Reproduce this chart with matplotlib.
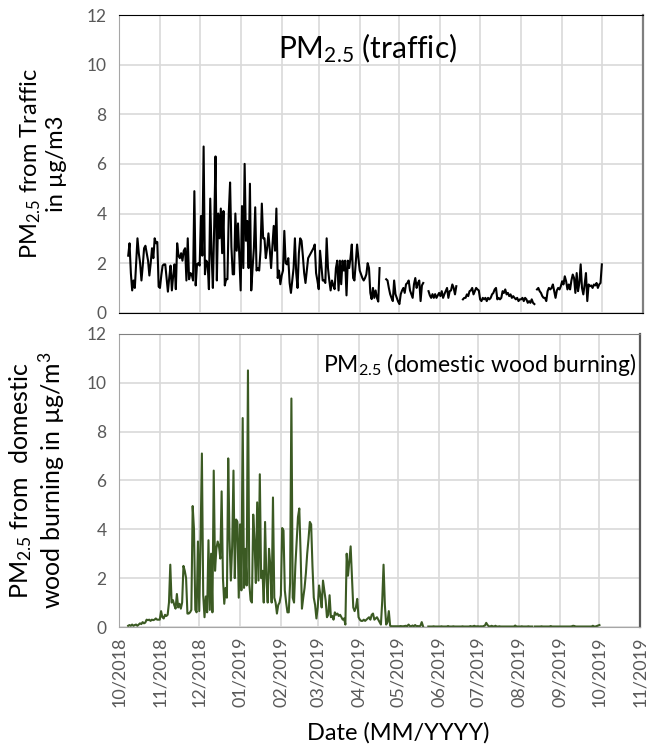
import numpy as np
import pandas as pd
import matplotlib
matplotlib.use("Agg")
import matplotlib.pyplot as plt
import matplotlib.dates as mdates

plt.rcParams['font.family'] = ['Lato', 'DejaVu Sans']
plt.rcParams['mathtext.default'] = 'regular'

nan = np.nan

# daily values, 08/10/2018 .. 01/10/2019
traffic_oct = [2.3, 2.8, 1.6, 0.9, 1.3, 1.0, 2.0, 3.0, 2.4, 2.0, 1.3, 1.9, 2.6, 2.7, 2.4, 2.1, 1.5, 2.0, 2.6, 2.2, 3.0, 2.8, 2.85, 1.05]
traffic_nov = [1.0, 1.5, 1.9, 1.95, 1.95, 1.4, 0.85, 1.4, 1.9, 0.9, 1.5, 1.95, 0.95, 2.8, 2.3, 2.2, 2.4, 2.1, 2.5, 2.6, 1.3, 3.0, 1.35, 1.6, 1.55, 1.3, 4.9, 1.1, 1.95, 2.0]
traffic_dec = [1.9, 3.9, 2.3, 6.7, 1.55, 2.1, 2.0, 0.95, 4.6, 2.35, 1.0, 3.5, 6.3, 1.3, 4.0, 3.0, 4.2, 2.4, 4.1, 1.1, 1.35, 1.35, 4.0, 5.25, 2.65, 1.55, 1.55, 4.0, 2.5, 3.6, 2.2]
traffic_jan = [0.9, 4.3, 1.8, 6.0, 2.9, 3.7, 1.8, 5.2, 0.9, 1.8, 2.6, 4.25, 1.7, 1.8, 1.7, 2.5, 4.4, 3.0, 3.0, 2.2, 2.6, 3.2, 2.55, 1.8, 2.7, 3.5, 2.5, 4.2, 1.4, 1.7, 1.15]
traffic_feb = [1.5, 1.7, 3.3, 2.0, 1.95, 2.2, 1.2, 0.8, 1.3, 1.8, 3.0, 1.6, 1.0, 2.4, 3.0, 2.9, 2.3, 1.6, 1.2, 1.7, 2.2, 2.3, 2.4, 2.5, 2.6, 2.75, 1.6, 1.3]
traffic_mar = [0.95, 2.5, 1.9, 1.3, 1.3, 1.2, 3.0, 1.8, 1.3, 0.9, 1.3, 1.1, 0.95, 1.8, 2.1, 0.9, 2.1, 1.15, 2.1, 1.7, 2.1, 0.7, 2.1, 1.8, 2.2, 2.75, 1.4, 1.3, 2.0, 2.75, 2.2]
traffic_apr = [1.7, 1.55, 1.4, 1.3, 1.4, 1.55, 2.0, 1.8, 0.8, 0.55, 1.0, 0.6, 0.9, 0.6, 0.45, 1.8, nan, nan, nan, nan, 1.35, 1.3, 1.0, 0.75, 0.6, 0.47, 1.3, 0.75, 0.6, 0.45]
traffic_may = [0.35, 0.75, 0.9, 1.0, 0.8, 1.15, 1.2, 1.3, 0.9, 0.75, 0.6, 1.15, 1.4, 1.0, 1.2, 1.3, 0.47, 1.1, 1.2, nan, nan, nan, 0.87, 0.7, 0.6, 0.75, 0.6, 0.75, 0.6, 0.7, 0.8]
traffic_jun = [0.67, 0.87, 0.6, 0.75, 0.87, 1.0, 0.6, 0.87, 0.9, 1.14, 1.0, 0.74, 1.07, nan, nan, nan, nan, 0.54, 0.6, 0.6, 0.74, 0.67, 0.87, 0.9, 1.0, 0.74, 0.87, 1.0, 0.94, 0.9]
traffic_jul = [0.54, 0.47, 0.6, 0.54, 0.6, 0.47, 0.6, 0.54, 0.6, 0.74, 0.8, 0.94, 1.0, 0.54, 0.6, 0.54, 0.6, 0.87, 0.8, 0.94, 0.74, 0.8, 0.67, 0.74, 0.6, 0.67, 0.6, 0.54, 0.6, 0.47, 0.54]
traffic_aug = [0.54, 0.6, 0.47, 0.6, 0.54, 0.4, 0.47, 0.4, 0.54, 0.4, 0.35, nan, 0.94, 1.0, 0.87, 0.8, 0.67, 0.6, 0.6, 0.47, 0.87, 1.0, 0.94, 1.0, 1.14, 0.87, 0.6, 0.9, 1.0, 0.94, 1.07]
traffic_sep = [1.27, 1.14, 1.47, 1.27, 0.94, 1.14, 0.94, 1.3, 1.54, 1.4, 0.8, 1.6, 0.87, 1.2, 1.95, 1.0, 0.74, 1.14, 1.6, 0.47, 1.14, 1.07, 1.1, 1.0, 1.14, 1.1, 1.2, 1.0, 1.14, 1.2]
traffic_oct19 = [1.95]

wood_oct = [0.05, 0.08, 0.05, 0.1, 0.05, 0.08, 0.1, 0.05, 0.1, 0.15, 0.12, 0.2, 0.15, 0.18, 0.3, 0.28, 0.3, 0.25, 0.3, 0.28, 0.3, 0.35, 0.3, 0.3]
wood_nov = [0.3, 0.65, 0.4, 0.35, 0.5, 0.45, 0.5, 1.0, 2.55, 1.0, 1.1, 0.9, 0.75, 1.35, 0.8, 0.95, 0.75, 1.0, 2.5, 2.3, 2.0, 0.55, 0.55, 0.6, 0.7, 4.95, 4.0, 0.7, 0.6, 3.5]
wood_dec = [0.65, 3.6, 7.1, 1.3, 0.4, 1.25, 0.6, 3.55, 0.7, 3.0, 0.6, 6.4, 2.3, 3.2, 3.5, 3.3, 2.8, 5.55, 2.0, 0.95, 1.6, 1.2, 6.9, 3.6, 1.9, 3.3, 6.4, 2.0, 4.4, 4.3, 1.2]
wood_jan = [4.2, 1.5, 8.55, 1.6, 3.2, 1.7, 10.5, 1.8, 1.1, 1.0, 4.6, 3.5, 1.8, 5.1, 1.9, 6.25, 2.0, 2.3, 1.0, 4.3, 2.0, 1.0, 3.2, 2.5, 1.0, 5.3, 1.2, 1.0, 0.55, 0.9, 1.0]
wood_feb = [1.3, 4.05, 3.95, 1.5, 1.0, 0.6, 0.6, 1.8, 9.35, 1.2, 1.0, 2.5, 3.5, 4.5, 4.85, 3.0, 0.75, 1.2, 1.6, 2.2, 3.0, 3.6, 4.3, 4.2, 2.5, 1.2, 0.9, 0.35]
wood_mar = [0.8, 1.7, 1.3, 0.8, 1.9, 1.5, 1.1, 0.4, 0.5, 1.3, 0.4, 0.45, 0.3, 0.6, 0.5, 0.55, 0.45, 0.5, 0.4, 0.3, 0.35, 0.1, 3.0, 2.1, 2.7, 3.3, 2.0, 0.8, 0.65, 0.8, 1.15]
wood_apr = [0.4, 0.3, 0.25, 0.25, 0.3, 0.25, 0.3, 0.35, 0.4, 0.3, 0.5, 0.55, 0.3, 0.35, 0.4, 0.3, 0.2, 0.1, 1.07, 2.55, 0.9, 0.1, 0.2, 0.65, 0.05, 0.03, 0.03, 0.03, 0.03, 0.03]
wood_may = [0.03, 0.03, 0.04, 0.03, 0.03, 0.04, 0.05, 0.03, 0.1, 0.04, 0.03, 0.06, 0.03, 0.08, 0.03, 0.04, 0.03, 0.05, 0.2, 0.03, nan, nan, nan, 0.02, 0.02, 0.02, 0.02, 0.03, 0.02, 0.02, 0.02]
wood_jun = [0.02, 0.02, 0.03, 0.02, 0.02, 0.02, 0.02, 0.04, 0.02, 0.02, 0.02, 0.03, 0.02, 0.02, 0.02, 0.02, 0.02, 0.02, 0.03, 0.02, 0.02, 0.02, 0.02, 0.02, 0.04, 0.02, 0.03, 0.05, 0.02, 0.03]
wood_jul = [0.03, 0.02, 0.03, 0.02, 0.04, 0.06, 0.17, 0.08, 0.03, 0.02, 0.05, 0.03, 0.02, 0.05, 0.02, 0.02, 0.03, 0.02, 0.02, 0.02, 0.02, 0.02, 0.02, 0.02, 0.02, 0.02, 0.02, 0.02, 0.06, 0.02, 0.02]
wood_aug = [0.02, 0.02, 0.03, 0.02, 0.02, 0.02, 0.02, 0.03, 0.02, 0.02, 0.02, nan, 0.02, 0.02, 0.02, 0.02, 0.02, 0.03, 0.02, 0.02, 0.02, 0.02, 0.02, 0.02, 0.04, 0.02, 0.02, 0.02, 0.02, 0.02, 0.02]
wood_sep = [0.02, 0.02, 0.02, 0.02, 0.02, 0.02, 0.02, 0.02, 0.02, 0.03, 0.05, 0.04, 0.02, 0.02, 0.02, 0.02, 0.02, 0.02, 0.02, 0.02, 0.02, 0.02, 0.02, 0.02, 0.02, 0.05, 0.02, 0.02, 0.04, 0.06]
wood_oct19 = [0.08]

traffic = np.array(traffic_oct + traffic_nov + traffic_dec + traffic_jan + traffic_feb + traffic_mar + traffic_apr
                   + traffic_may + traffic_jun + traffic_jul + traffic_aug + traffic_sep + traffic_oct19)
wood = np.array(wood_oct + wood_nov + wood_dec + wood_jan + wood_feb + wood_mar + wood_apr
                + wood_may + wood_jun + wood_jul + wood_aug + wood_sep + wood_oct19)
dates = pd.date_range('2018-10-08', '2019-10-01', freq='D')

fig = plt.figure(figsize=(6.5, 7.5), dpi=100)
ax1 = fig.add_axes([0.183, 0.583, 0.806, 0.397])
ax2 = fig.add_axes([0.183, 0.164, 0.802, 0.391])

grey = '#595959'
for ax in (ax1, ax2):
    ax.set_xlim(pd.Timestamp('2018-10-01'), pd.Timestamp('2019-11-01'))
    ax.set_ylim(0, 12)
    ax.set_yticks(np.arange(0, 13, 2))
    ax.xaxis.set_major_locator(mdates.MonthLocator())
    ax.xaxis.set_major_formatter(mdates.DateFormatter('%m/%Y'))
    ax.grid(True, color='#d9d9d9', lw=1.2)
    ax.set_axisbelow(True)
    ax.tick_params(length=0, labelsize=12.5, labelcolor=grey, pad=9)

ax1.plot(dates, traffic, color='black', lw=1.5)
ax2.plot(dates, wood, color='#3b5a23', lw=1.5)

ax1.tick_params(axis='x', labelbottom=False)
ax2.tick_params(axis='x', labelrotation=90, labelsize=13, pad=7)

ax1.spines['top'].set_color('black')
ax1.spines['bottom'].set_color('black')
ax1.spines['right'].set_color('#7f7f7f')
ax1.spines['left'].set_color('#a6a6a6')
ax1.spines['right'].set_linewidth(1.6)
ax2.spines['top'].set_color('#808080')
ax2.spines['bottom'].set_color('#a6a6a6')
ax2.spines['right'].set_color('#595959')
ax2.spines['left'].set_color('#a6a6a6')
ax2.spines['right'].set_linewidth(1.6)

ax1.text(0.474, 0.89, 'PM$_{2.5}$ (traffic)', transform=ax1.transAxes, ha='center', va='center', fontsize=21.5)
ax2.text(0.693, 0.895, 'PM$_{2.5}$ (domestic wood burning)', transform=ax2.transAxes, ha='center', va='center', fontsize=16.5)

ax1.set_ylabel('PM$_{2.5}$ from Traffic\nin µg/m3', fontsize=17, linespacing=1.15)
ax2.set_ylabel('PM$_{2.5}$ from  domestic\nwood burning in µg/m$^3$', fontsize=18, linespacing=1.1)
ax1.yaxis.set_label_coords(-0.1, 0.5)
ax2.yaxis.set_label_coords(-0.1, 0.5)
ax2.set_xlabel('Date (MM/YYYY)', fontsize=17)
ax2.xaxis.set_label_coords(0.535, -0.325)

fig.savefig('out.png', dpi=100)
